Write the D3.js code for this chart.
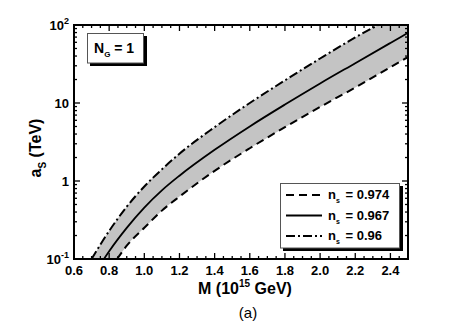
<!DOCTYPE html>
<html>
<head>
<meta charset="utf-8">
<script src="https://cdn.jsdelivr.net/npm/d3@7"></script>
<style>
  body { margin: 0; background: #fff; }
  text { font-family: "Liberation Sans", Arial, sans-serif; }
</style>
</head>
<body>
<svg id="chart" width="471" height="327"></svg>
<script>
// n_s = 0.967 (solid)
var mMid = [0.77, 0.8, 0.9, 1.0, 1.1, 1.2, 1.4, 1.6, 1.8, 2.0, 2.2, 2.4, 2.5];
var aMid = [0.1, 0.126, 0.251, 0.457, 0.759, 1.17, 2.51, 5.01, 9.55, 17.8, 32.4, 58.9, 79.4];
// n_s = 0.96 (dash-dot, upper)
var mHigh = [0.70, 0.8, 0.9, 1.0, 1.1, 1.2, 1.4, 1.6, 1.8, 2.0, 2.2, 2.33];
var aHigh = [0.1, 0.229, 0.468, 0.851, 1.41, 2.24, 4.9, 10, 19.5, 37.2, 69.2, 100];
// n_s = 0.974 (dashed, lower)
var mLow = [0.845, 0.9, 1.0, 1.1, 1.2, 1.4, 1.6, 1.8, 2.0, 2.2, 2.4, 2.5];
var aLow = [0.1, 0.148, 0.251, 0.417, 0.631, 1.35, 2.63, 4.9, 8.9, 15.8, 28.8, 38.9];

var xTicks = [0.6, 0.8, 1.0, 1.2, 1.4, 1.6, 1.8, 2.0, 2.2, 2.4];
var yTicks = [0.1, 1, 10, 100];
var legendLabels = ["0.974", "0.967", "0.96"];

var svg = d3.select("#chart");
var pLeft = 74, pRight = 408, pTop = 25, pBottom = 259;

var x = d3.scaleLinear().domain([0.6, 2.5]).range([pLeft, pRight]);
var y = d3.scaleLog().domain([0.1, 100]).range([pBottom, pTop]);

var toPts = function(ms, as) { return ms.map(function(m, i) { return [m, as[i]]; }); };
var midPts = toPts(mMid, aMid), highPts = toPts(mHigh, aHigh), lowPts = toPts(mLow, aLow);

svg.append("clipPath").attr("id", "clip")
  .append("rect").attr("x", pLeft).attr("y", pTop).attr("width", pRight - pLeft).attr("height", pBottom - pTop);

var line = d3.line().x(function(d) { return x(d[0]); }).y(function(d) { return y(d[1]); })
  .curve(d3.curveMonotoneX);

var g = svg.append("g").attr("clip-path", "url(#clip)");

// fill: upper curve, over the top-right corner, lower curve back
var upPath = line(highPts.concat([[2.45, 130], [2.5, 140]]));
var lowRev = line(lowPts.slice().reverse());
g.append("path")
  .attr("d", upPath + "L" + x(2.5) + "," + y(aLow[aLow.length - 1]) +
        lowRev.replace(/^M/, "L") + "L" + x(mLow[0]) + "," + y(0.05) + "L" + x(mHigh[0] - 0.02) + "," + y(0.05) + "Z")
  .attr("fill", "#c4c4c4");

g.append("path").attr("d", line(lowPts)).attr("fill", "none").attr("stroke", "#000")
  .attr("stroke-width", 2).attr("stroke-dasharray", "8,5");
g.append("path").attr("d", line(midPts)).attr("fill", "none").attr("stroke", "#000")
  .attr("stroke-width", 1.8);
g.append("path").attr("d", line(highPts)).attr("fill", "none").attr("stroke", "#000")
  .attr("stroke-width", 2).attr("stroke-dasharray", "9,3,2,3");

// ticks (inward, all four sides)
var minorX = d3.range(0, 39).map(function(i) { return 0.6 + i * 0.05; });
var ticks = svg.append("g").attr("stroke", "#000").attr("stroke-width", 1.3);
minorX.forEach(function(v, i) {
  var len = (i % 4 === 0) ? 6 : 3;
  ticks.append("line").attr("x1", x(v)).attr("x2", x(v)).attr("y1", pBottom).attr("y2", pBottom - len);
  ticks.append("line").attr("x1", x(v)).attr("x2", x(v)).attr("y1", pTop).attr("y2", pTop + len);
});
var minorY = [];
[0.1, 1, 10].forEach(function(d) { for (var k = 1; k <= 9; k++) minorY.push([d * k, k === 1]); });
minorY.push([100, true]);
minorY.forEach(function(p) {
  var len = p[1] ? 6 : 3;
  ticks.append("line").attr("x1", pLeft).attr("x2", pLeft + len).attr("y1", y(p[0])).attr("y2", y(p[0]));
  ticks.append("line").attr("x1", pRight).attr("x2", pRight - len).attr("y1", y(p[0])).attr("y2", y(p[0]));
});

// frame
svg.append("rect").attr("x", pLeft).attr("y", pTop).attr("width", pRight - pLeft).attr("height", pBottom - pTop)
  .attr("fill", "none").attr("stroke", "#000").attr("stroke-width", 2);

// x tick labels
svg.append("g").selectAll("text").data(xTicks).enter().append("text")
  .attr("x", function(d) { return x(d); }).attr("y", 275)
  .attr("text-anchor", "middle").attr("font-size", 13).attr("font-weight", "bold")
  .text(function(d) { return d.toFixed(1); });

// y tick labels
var yLab = svg.append("g").attr("font-size", 13).attr("font-weight", "bold");
yTicks.forEach(function(v) {
  var t = yLab.append("text").attr("y", y(v) + 5).attr("x", pLeft - 5).attr("text-anchor", "end");
  if (v === 100) { t.append("tspan").text("10"); t.append("tspan").attr("font-size", 9).attr("dy", -6).text("2"); }
  else if (v === 0.1) { t.append("tspan").text("10"); t.append("tspan").attr("font-size", 9).attr("dy", -6).text("-1"); }
  else t.text(v);
});

// axis titles
var xt = svg.append("text").attr("x", 245).attr("y", 294).attr("text-anchor", "middle")
  .attr("font-size", 16).attr("font-weight", "bold");
xt.append("tspan").text("M (10");
xt.append("tspan").attr("font-size", 10).attr("dy", -7).text("15");
xt.append("tspan").attr("dy", 7).text(" GeV)");

var yt = svg.append("text").attr("transform", "translate(41,148) rotate(-90)").attr("text-anchor", "middle")
  .attr("font-size", 16).attr("font-weight", "bold");
yt.append("tspan").text("a");
yt.append("tspan").attr("font-size", 10).attr("dy", 5).text("S");
yt.append("tspan").attr("dy", -5).text(" (TeV)");

svg.append("text").attr("x", 248).attr("y", 318).attr("text-anchor", "middle")
  .attr("font-size", 15).text("(a)");

// N_G box
svg.append("rect").attr("x", 90).attr("y", 36).attr("width", 57).attr("height", 30).attr("fill", "#000");
svg.append("rect").attr("x", 87.5).attr("y", 33.5).attr("width", 56).attr("height", 29.5)
  .attr("fill", "#fff").attr("stroke", "#555").attr("stroke-width", 1);
var ng = svg.append("text").attr("x", 94).attr("y", 53).attr("font-size", 14).attr("font-weight", "bold");
ng.append("tspan").text("N");
ng.append("tspan").attr("font-size", 8).attr("dy", 4).text("G");
ng.append("tspan").attr("dy", -4).text(" = 1");

// legend
svg.append("rect").attr("x", 283).attr("y", 186).attr("width", 120).attr("height", 65).attr("fill", "#000");
svg.append("rect").attr("x", 280.5).attr("y", 183.5).attr("width", 119).attr("height", 64.5)
  .attr("fill", "#fff").attr("stroke", "#555").attr("stroke-width", 1);
var dashes = ["8,5", null, "9,3,2,3"];
legendLabels.forEach(function(lbl, i) {
  var ly = 195 + i * 20.5;
  svg.append("line").attr("x1", 286).attr("x2", 322).attr("y1", ly).attr("y2", ly)
    .attr("stroke", "#000").attr("stroke-width", 2).attr("stroke-dasharray", dashes[i]);
  var t = svg.append("text").attr("x", 328).attr("y", ly + 4).attr("font-size", 13).attr("font-weight", "bold");
  t.append("tspan").text("n");
  t.append("tspan").attr("font-size", 7).attr("dy", 4).text("s");
  t.append("tspan").attr("dy", -4).attr("dx", 2).text(" = " + lbl);
});
</script>
</body>
</html>
